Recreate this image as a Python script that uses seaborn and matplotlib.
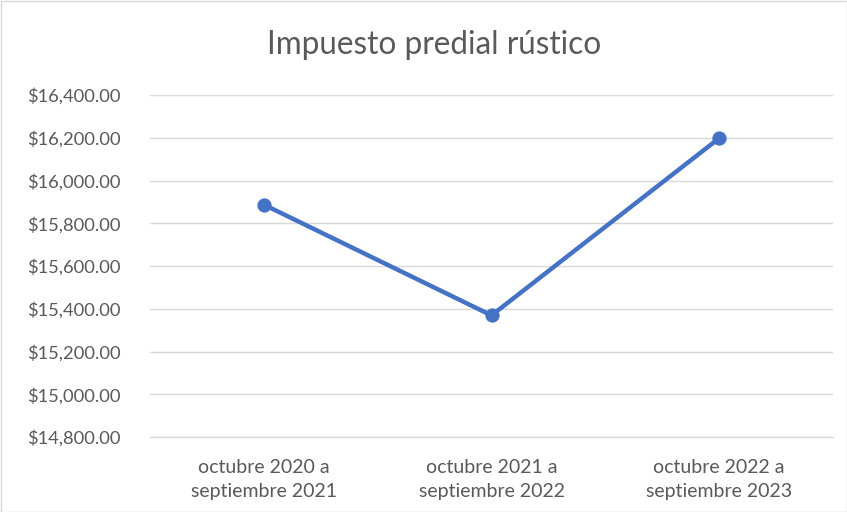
import matplotlib
matplotlib.use("Agg")
import matplotlib.pyplot as plt
import seaborn as sns
import pandas as pd
from matplotlib.ticker import FuncFormatter, MultipleLocator
from matplotlib.patches import Rectangle

periodos = ["octubre 2020 a\nseptiembre 2021",
            "octubre 2021 a\nseptiembre 2022",
            "octubre 2022 a\nseptiembre 2023"]
montos = [15887, 15369, 16198]

sns.set_theme(style="white")
plt.rcParams['font.family'] = ['Lato', 'DejaVu Sans']

df = pd.DataFrame({"periodo": periodos, "monto": montos})

fig = plt.figure(figsize=(8.47, 5.12), dpi=100)
ax = fig.add_axes([150/847, 1-437/512, (833-150)/847, (437-95)/512])

sns.lineplot(data=df, x="periodo", y="monto", ax=ax, color="#4472C4",
             linewidth=3.2, marker="o", markersize=9.5,
             markeredgecolor="#4472C4", sort=False, zorder=3)

ax.set_xlim(-0.5, 2.5)
ax.set_ylim(14800, 16400)
ax.yaxis.set_major_locator(MultipleLocator(200))
ax.yaxis.set_major_formatter(FuncFormatter(lambda v, p: f"${v:,.2f}"))
ax.grid(axis="y", color="#D9D9D9", linewidth=1)
ax.set_axisbelow(True)
for s in ["top", "right", "left"]:
    ax.spines[s].set_visible(False)
ax.spines["bottom"].set_color("#D9D9D9")
ax.spines["bottom"].set_linewidth(1)
ax.set_xlabel("")
ax.set_ylabel("")
ax.tick_params(axis="both", length=0, colors="#595959")
ax.tick_params(axis="y", pad=21, labelsize=13.2)
ax.tick_params(axis="x", pad=16, labelsize=14)
for lbl in ax.get_xticklabels():
    lbl.set_linespacing(1.45)

fig.text(434/847, 1-45/512, "Impuesto predial rústico", ha="center", va="center",
         fontsize=22.7, color="#595959")

fig.patches.append(Rectangle((0.5/847, 0.5/512), 1-1/847, 1-1/512,
                             transform=fig.transFigure, fill=False,
                             edgecolor="#D9D9D9", linewidth=1))

fig.savefig("out.png", dpi=100)
